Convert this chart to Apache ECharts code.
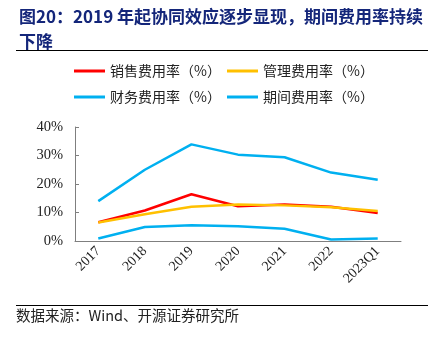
<!DOCTYPE html>
<html><head><meta charset="utf-8">
<script src="https://cdn.jsdelivr.net/npm/echarts@6/dist/echarts.min.js"></script>
<style>html,body{margin:0;padding:0;background:#fff}#c{width:443px;height:337px}</style>
</head><body><div id="c"></div>
<script>
const categories = ['2017','2018','2019','2020','2021','2022','2023Q1'];
const salesRate = [6.6, 10.7, 16.4, 12.2, 12.8, 12.0, 9.8];
const adminRate = [6.5, 9.4, 12.0, 12.8, 12.5, 11.8, 10.5];
const financeRate = [0.9, 4.9, 5.5, 5.2, 4.3, 0.5, 0.9];
const periodRate = [14.0, 25.0, 33.9, 30.3, 29.4, 24.0, 21.5];
const yTicks = [0, 10, 20, 30, 40];
const seriesNames = ['销售费用率（%）','管理费用率（%）','财务费用率（%）','期间费用率（%）'];
const colors = ['#FF0000','#FFC000','#00B0F0','#00B0F0'];
const seriesData = [salesRate, adminRate, financeRate, periodRate];

const chart = echarts.init(document.getElementById('c'), null, {renderer:'canvas'});
const legendPos = [[74,64],[227,64],[74,90],[227,90]];
const cjk = '"Noto Sans CJK SC", sans-serif';
const serif = '"Liberation Serif", "DejaVu Serif", serif';
chart.setOption({
  animation:false,
  backgroundColor:'#fff',
  title:{
    text:'图20：2019 年起协同效应逐步显现，期间费用率持续\n下降',
    left:14, top:-1,
    textStyle:{fontFamily:cjk, fontSize:17, fontWeight:'bold', color:'#14267A', lineHeight:25}
  },
  graphic:[
    {type:'line', shape:{x1:16,y1:50.5,x2:428,y2:50.5}, style:{stroke:'#000',lineWidth:1}},
    {type:'line', shape:{x1:16,y1:305.5,x2:428,y2:305.5}, style:{stroke:'#000',lineWidth:1}},
    {type:'text', left:16, top:308, style:{text:'数据来源：Wind、开源证券研究所', fontFamily:cjk, fontSize:14.5, fill:'#222'}}
  ],
  legend: seriesNames.map((n,i)=>({
    data:[n], left:legendPos[i][0], top:legendPos[i][1], icon:'rect', itemWidth:31, itemHeight:3, itemGap:0,
    textStyle:{fontFamily:cjk, fontSize:14, color:'#222', padding:[0,0,0,0]}, padding:0
  })),
  grid:{left:75, right:42, top:127, bottom:96, containLabel:false},
  xAxis:{
    type:'category', data:categories, boundaryGap:true,
    axisLine:{lineStyle:{color:'#7f7f7f', width:1}},
    axisTick:{inside:true, length:4, lineStyle:{color:'#7f7f7f'}},
    axisLabel:{rotate:45, fontFamily:serif, fontSize:14, color:'#222', margin:8, interval:0}
  },
  yAxis:{
    type:'value', min:yTicks[0], max:yTicks[yTicks.length-1], interval:10,
    axisLine:{show:true, lineStyle:{color:'#7f7f7f', width:1}},
    axisTick:{show:true, inside:true, length:4, lineStyle:{color:'#7f7f7f'}},
    splitLine:{show:false},
    axisLabel:{formatter:'{value}%', fontFamily:serif, fontSize:14.5, color:'#222', margin:12}
  },
  series: seriesNames.map((n,i)=>({
    name:n, type:'line', data:seriesData[i], symbol:'none', smooth:false,
    lineStyle:{color:colors[i], width:2.5}, itemStyle:{color:colors[i]}
  }))
});
</script></body></html>
